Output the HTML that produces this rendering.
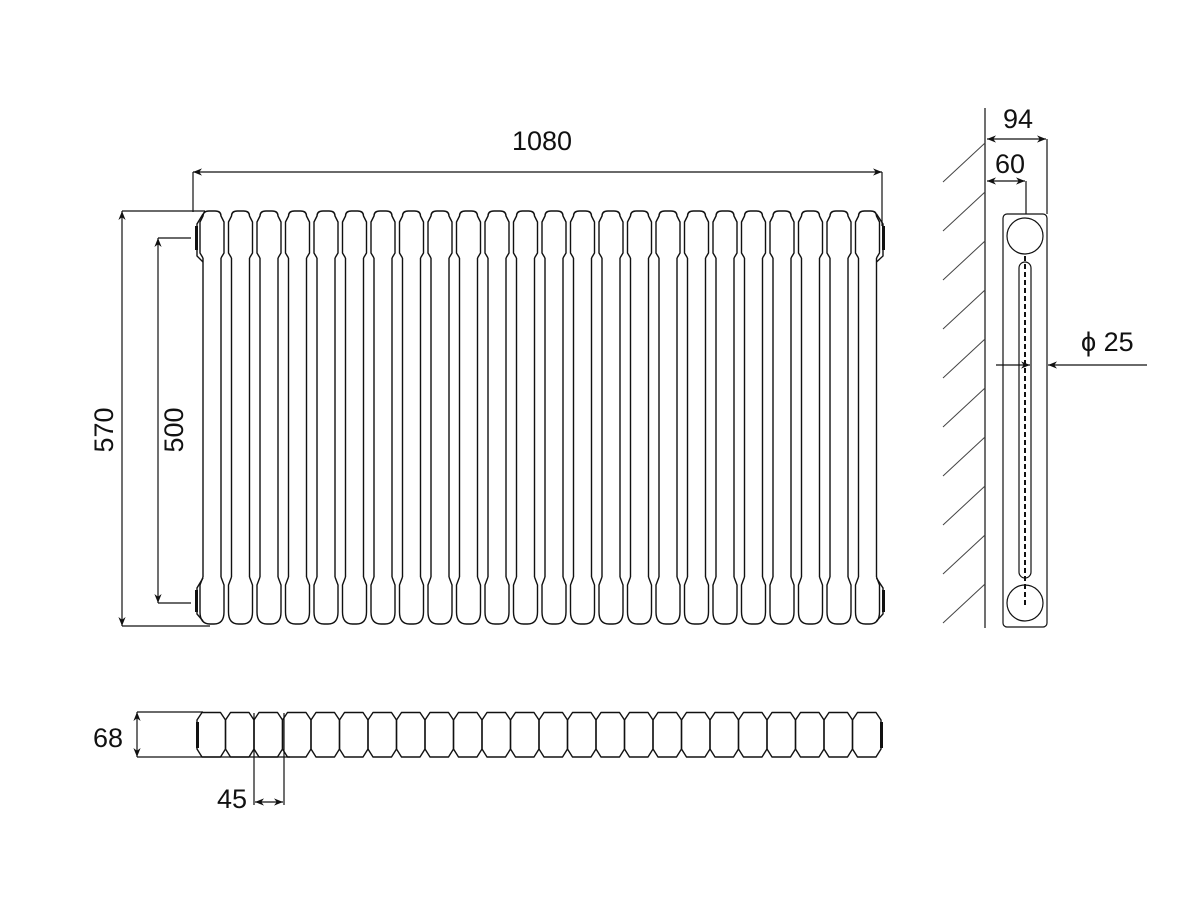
<!DOCTYPE html>
<html><head><meta charset="utf-8"><style>
html,body{margin:0;padding:0;background:#fff;}
svg{display:block;}
text{font-family:"Liberation Sans",sans-serif;fill:#111;}
</style></head><body>
<svg width="1200" height="900" viewBox="0 0 1200 900" xmlns="http://www.w3.org/2000/svg">
<defs>
<g id="col" fill="none" stroke="#111" stroke-width="1.4" stroke-linejoin="round">
<path d="M0,258 L-3,253 L-3,222 L0,216 Q0,211 6,211 L12,211 Q18,211 18,216 L21,222 L21,253 L18,258"/>
<path d="M0,258 V577 M18,258 V577"/>
<path d="M0,577 L-3,585 L-3,612 Q-3,624 7,624 L11,624 Q21,624 21,612 L21,585 L18,577"/>
</g>
<g id="oct" fill="none" stroke="#111" stroke-width="1.4" stroke-linejoin="round">
<path d="M0,720 L5,712.5 L23.5,712.5 L28.5,720 L28.5,749 L23.5,757 L5,757 L0,749 Z"/>
</g>
<marker id="ah" viewBox="0 0 10 10" refX="10" refY="5" markerWidth="9" markerHeight="9" orient="auto-start-reverse" markerUnits="userSpaceOnUse">
<path d="M0,1 L10,5 L0,9 L3,5 Z" fill="#111"/>
</marker>
</defs>

<g>
<use href="#col" x="203"/><use href="#col" x="231.5"/><use href="#col" x="260"/><use href="#col" x="288.5"/>
<use href="#col" x="317"/><use href="#col" x="345.5"/><use href="#col" x="374"/><use href="#col" x="402.5"/>
<use href="#col" x="431"/><use href="#col" x="459.5"/><use href="#col" x="488"/><use href="#col" x="516.5"/>
<use href="#col" x="545"/><use href="#col" x="573.5"/><use href="#col" x="602"/><use href="#col" x="630.5"/>
<use href="#col" x="659"/><use href="#col" x="687.5"/><use href="#col" x="716"/><use href="#col" x="744.5"/>
<use href="#col" x="773"/><use href="#col" x="801.5"/><use href="#col" x="830"/><use href="#col" x="858.5"/>
</g>
<g fill="none" stroke="#111" stroke-width="1.4">
<path d="M203,214 L197,224 L197,256 L203,262"/>
<path d="M203,578 L197,588 L197,614 L203,621"/>
<path d="M876.5,214 L883,224 L883,256 L876.5,262"/>
<path d="M876.5,578 L883,588 L883,614 L876.5,621"/>
</g>
<g fill="#111">
<rect x="195" y="226" width="3" height="24"/>
<rect x="195" y="590" width="3" height="22"/>
<rect x="882" y="226" width="3" height="24"/>
<rect x="882" y="590" width="3" height="22"/>
</g>

<g stroke="#111" stroke-width="1.2" fill="none">
<line x1="193" y1="172" x2="193" y2="212"/>
<line x1="882" y1="172" x2="882" y2="226"/>
<line x1="193" y1="172" x2="882" y2="172" marker-start="url(#ah)" marker-end="url(#ah)"/>
<line x1="122" y1="211" x2="205" y2="211"/>
<line x1="122" y1="626" x2="210" y2="626"/>
<line x1="122" y1="211" x2="122" y2="626" marker-start="url(#ah)" marker-end="url(#ah)"/>
<line x1="158" y1="238" x2="191" y2="238"/>
<line x1="158" y1="603" x2="191" y2="603"/>
<line x1="158" y1="238" x2="158" y2="603" marker-start="url(#ah)" marker-end="url(#ah)"/>
</g>
<text x="542" y="150" font-size="27" text-anchor="middle">1080</text>
<text transform="translate(113,430) rotate(-90)" font-size="27" text-anchor="middle">570</text>
<text transform="translate(183,430) rotate(-90)" font-size="27" text-anchor="middle">500</text>

<g>
<use href="#oct" x="197"/><use href="#oct" x="225.5"/><use href="#oct" x="254"/><use href="#oct" x="282.5"/>
<use href="#oct" x="311"/><use href="#oct" x="339.5"/><use href="#oct" x="368"/><use href="#oct" x="396.5"/>
<use href="#oct" x="425"/><use href="#oct" x="453.5"/><use href="#oct" x="482"/><use href="#oct" x="510.5"/>
<use href="#oct" x="539"/><use href="#oct" x="567.5"/><use href="#oct" x="596"/><use href="#oct" x="624.5"/>
<use href="#oct" x="653"/><use href="#oct" x="681.5"/><use href="#oct" x="710"/><use href="#oct" x="738.5"/>
<use href="#oct" x="767"/><use href="#oct" x="795.5"/><use href="#oct" x="824"/><use href="#oct" x="852.5"/>
</g>
<rect x="196" y="722" width="3" height="26" fill="#111"/>
<rect x="880" y="722" width="3" height="26" fill="#111"/>
<g stroke="#111" stroke-width="1.2" fill="none">
<line x1="137" y1="712" x2="203" y2="712"/>
<line x1="137" y1="757" x2="290" y2="757"/>
<line x1="137" y1="712" x2="137" y2="757" marker-start="url(#ah)" marker-end="url(#ah)"/>
<line x1="254" y1="713" x2="254" y2="805"/>
<line x1="284" y1="713" x2="284" y2="805"/>
<line x1="255" y1="802" x2="283" y2="802" marker-start="url(#ah)" marker-end="url(#ah)"/>
</g>
<text x="108" y="747" font-size="27" text-anchor="middle">68</text>
<text x="232" y="808" font-size="27" text-anchor="middle">45</text>

<g stroke="#111" stroke-width="1.2" fill="none">
<line x1="985" y1="108" x2="985" y2="628"/>
<g stroke="#444" stroke-width="1">
<line x1="985" y1="143" x2="943" y2="182"/>
<line x1="985" y1="192" x2="943" y2="231"/>
<line x1="985" y1="241" x2="943" y2="280"/>
<line x1="985" y1="290" x2="943" y2="329"/>
<line x1="985" y1="339" x2="943" y2="378"/>
<line x1="985" y1="388" x2="943" y2="427"/>
<line x1="985" y1="437" x2="943" y2="476"/>
<line x1="985" y1="486" x2="943" y2="525"/>
<line x1="985" y1="535" x2="943" y2="574"/>
<line x1="985" y1="584" x2="943" y2="623"/>
</g>
<rect x="1003" y="214" width="44" height="413" rx="4"/>
<circle cx="1025" cy="236" r="18"/>
<circle cx="1025" cy="603" r="18"/>
<rect x="1019" y="262" width="12" height="316" rx="6"/>
<line x1="1025" y1="256" x2="1025" y2="606" stroke-width="2" stroke-dasharray="5,3"/>
<line x1="1047" y1="139" x2="1047" y2="214"/>
<line x1="987" y1="139" x2="1046" y2="139" marker-start="url(#ah)" marker-end="url(#ah)"/>
<line x1="1026" y1="181" x2="1026" y2="214"/>
<line x1="987" y1="181" x2="1025" y2="181" marker-start="url(#ah)" marker-end="url(#ah)"/>
<line x1="996" y1="365" x2="1030" y2="365" marker-end="url(#ah)"/>
<line x1="1147" y1="365" x2="1048" y2="365" marker-end="url(#ah)"/>
</g>
<text x="1018" y="128" font-size="27" text-anchor="middle">94</text>
<text x="1010" y="173" font-size="27" text-anchor="middle">60</text>
<text x="1081" y="351" font-size="27">ϕ 25</text>
</svg>
</body></html>
